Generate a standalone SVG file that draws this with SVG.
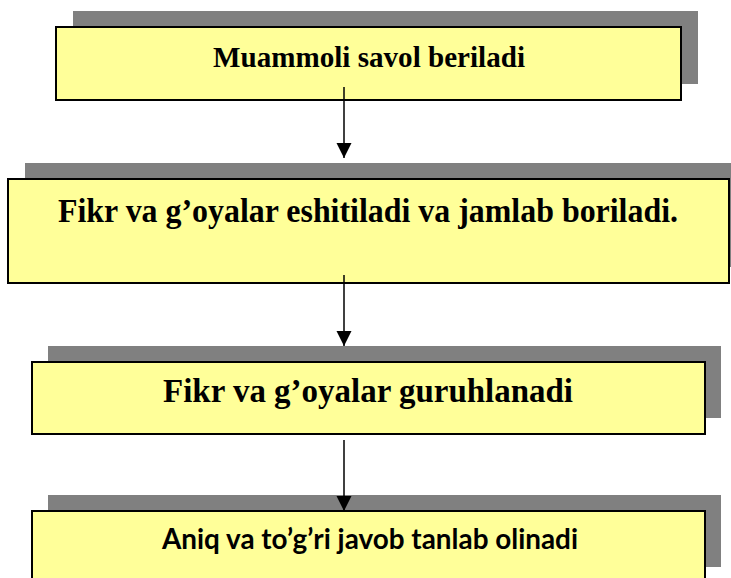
<svg xmlns="http://www.w3.org/2000/svg" width="731" height="578" viewBox="0 0 731 578">
<defs>
<style>
.shadow{fill:#808080;}
.box{fill:#FFFF99;stroke:#000;stroke-width:2;}
.t{font-family:'Liberation Serif','Times New Roman',Tinos,serif;font-weight:700;fill:#000;text-anchor:middle;}
.c{font-family:Lato,'Open Sans','Liberation Sans',sans-serif;font-weight:700;fill:#000;text-anchor:middle;}
.conn{stroke:#000;stroke-width:1.5;fill:none;}
</style>
<marker id="arr" markerUnits="userSpaceOnUse" markerWidth="16" markerHeight="16" viewBox="0 0 16 16" refX="15" refY="8" orient="auto">
<path d="M0,0.5 L15,8 L0,15.5 Z" fill="#000"/>
</marker>
</defs>
<rect width="731" height="578" fill="#fff"/>
<g id="node1">
<rect class="shadow" x="73" y="11" width="625" height="73"/>
<rect class="box" x="56" y="27" width="625" height="73"/>
<text class="t" x="369" y="66.5" font-size="29" textLength="312" lengthAdjust="spacingAndGlyphs">Muammoli savol beriladi</text>
</g>
<g id="node2">
<rect class="shadow" x="25" y="163" width="721" height="104"/>
<rect class="box" x="8" y="179" width="721" height="104"/>
<text class="t" x="368" y="222" font-size="34" textLength="620" lengthAdjust="spacingAndGlyphs">Fikr va g’oyalar eshitiladi va jamlab boriladi.</text>
</g>
<g id="node3">
<rect class="shadow" x="48" y="346" width="673" height="72"/>
<rect class="box" x="32" y="362" width="673" height="72"/>
<text class="t" x="368" y="401.5" font-size="34" textLength="410" lengthAdjust="spacingAndGlyphs">Fikr va g’oyalar guruhlanadi</text>
</g>
<g id="node4">
<rect class="shadow" x="48" y="495" width="673" height="72"/>
<rect class="box" x="32" y="511" width="673" height="72"/>
<text class="c" x="370" y="549" font-size="28" textLength="416" lengthAdjust="spacingAndGlyphs">Aniq va to’g’ri javob tanlab olinadi</text>
</g>
<g id="connectors">
<line class="conn" x1="344" y1="87" x2="344" y2="158" marker-end="url(#arr)"/>
<line class="conn" x1="344" y1="275" x2="344" y2="346" marker-end="url(#arr)"/>
<line class="conn" x1="344" y1="440" x2="344" y2="511" marker-end="url(#arr)"/>
</g>
</svg>
